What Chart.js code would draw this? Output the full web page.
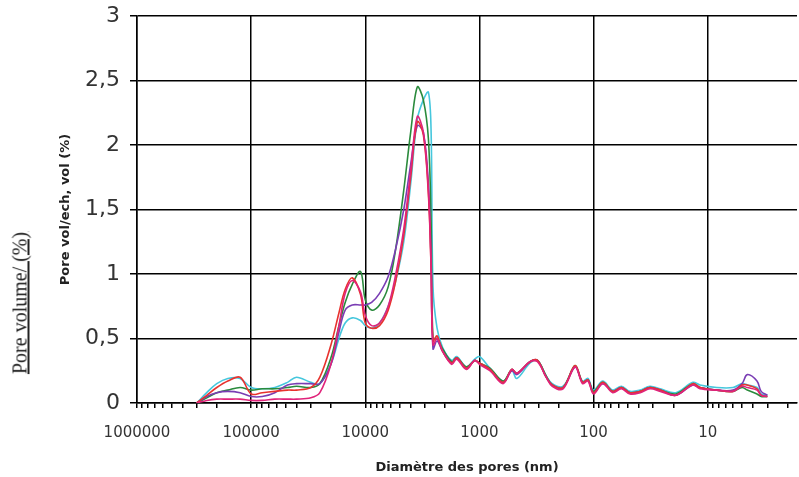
<!DOCTYPE html>
<html>
<head>
<meta charset="utf-8">
<script src="https://cdn.jsdelivr.net/npm/chart.js"></script>
<style>
  body { margin: 0; background: #fff; }
  #wrap { position: relative; width: 799px; height: 477px; }
  #outerLabel {
    position: absolute; left: 20px; top: 303px;
    transform: translate(-50%, -50%) rotate(-90deg);
    font-family: "Liberation Serif", serif; font-size: 20px; color: #222;
    text-decoration: underline; white-space: nowrap;
  }
</style>
</head>
<body>
<div id="wrap">
  <canvas id="poreChart"></canvas>
  <div id="outerLabel">Pore volume/ (%)</div>
</div>
<script>
// diamètres des pores (nm)
const diameters = [300000, 245000, 200000, 160000, 125000, 100000, 80000, 62000, 48000, 40000,
  30000, 25000, 20000, 17000, 15000, 13000, 11000, 10000, 8800, 7500,
  6300, 5400, 4600, 4000, 3500, 3100, 2800, 2650, 2550, 2350,
  2100, 1750, 1580, 1300, 1100, 1000, 810, 620, 520, 470,
  360, 310, 260, 230, 185, 145, 125, 112, 100, 83,
  68, 57, 48, 39, 32, 26, 19, 13.5, 11.7, 8.3,
  6, 5, 4.5, 3.7, 3.4, 3];

const magentaVals = [0, 0.02, 0.03, 0.03, 0.03, 0.02, 0.02, 0.03, 0.03, 0.03,
  0.04, 0.08, 0.30, 0.60, 0.85, 0.95, 0.86, 0.68, 0.60, 0.62,
  0.75, 1.00, 1.35, 1.80, 2.22, 2.10, 1.65, 1.05, 0.45, 0.50,
  0.40, 0.30, 0.34, 0.26, 0.33, 0.30, 0.25, 0.15, 0.26, 0.23,
  0.32, 0.32, 0.20, 0.13, 0.11, 0.28, 0.15, 0.17, 0.07, 0.15,
  0.08, 0.11, 0.07, 0.08, 0.11, 0.09, 0.06, 0.14, 0.11, 0.10,
  0.09, 0.13, 0.12, 0.10, 0.06, 0.05];

const redVals = [0, 0.06, 0.12, 0.17, 0.20, 0.07, 0.08, 0.09, 0.10, 0.10,
  0.12, 0.20, 0.45, 0.70, 0.88, 0.97, 0.84, 0.62, 0.58, 0.60,
  0.72, 0.95, 1.30, 1.75, 2.18, 2.08, 1.62, 1.05, 0.48, 0.52,
  0.40, 0.31, 0.35, 0.27, 0.33, 0.31, 0.26, 0.16, 0.26, 0.23,
  0.32, 0.33, 0.20, 0.14, 0.12, 0.29, 0.16, 0.18, 0.08, 0.16,
  0.09, 0.12, 0.08, 0.09, 0.12, 0.10, 0.06, 0.15, 0.12, 0.10,
  0.09, 0.14, 0.14, 0.11, 0.06, 0.05];

const purpleVals = [0, 0.05, 0.08, 0.09, 0.08, 0.05, 0.05, 0.08, 0.14, 0.15,
  0.15, 0.15, 0.30, 0.55, 0.72, 0.76, 0.76, 0.76, 0.78, 0.85,
  0.98, 1.20, 1.50, 1.85, 2.15, 2.10, 1.70, 1.10, 0.42, 0.48,
  0.40, 0.31, 0.35, 0.27, 0.33, 0.31, 0.26, 0.16, 0.25, 0.22,
  0.32, 0.33, 0.20, 0.14, 0.12, 0.28, 0.16, 0.18, 0.08, 0.15,
  0.09, 0.12, 0.08, 0.09, 0.12, 0.10, 0.06, 0.14, 0.12, 0.10,
  0.10, 0.15, 0.22, 0.17, 0.09, 0.06];

const greenVals = [0, 0.04, 0.08, 0.10, 0.12, 0.10, 0.11, 0.11, 0.12, 0.13,
  0.12, 0.15, 0.35, 0.60, 0.78, 0.92, 1.02, 0.80, 0.72, 0.76,
  0.90, 1.20, 1.65, 2.10, 2.45, 2.35, 2.05, 1.40, 0.50, 0.50,
  0.42, 0.32, 0.35, 0.28, 0.33, 0.31, 0.27, 0.17, 0.26, 0.23,
  0.32, 0.33, 0.21, 0.14, 0.12, 0.29, 0.16, 0.18, 0.09, 0.16,
  0.09, 0.12, 0.08, 0.09, 0.12, 0.10, 0.07, 0.15, 0.12, 0.10,
  0.09, 0.12, 0.10, 0.07, 0.05, 0.05];

const cyanVals = [0, 0.08, 0.15, 0.19, 0.19, 0.12, 0.11, 0.12, 0.16, 0.20,
  0.16, 0.15, 0.30, 0.50, 0.62, 0.66, 0.64, 0.60, 0.58, 0.62,
  0.75, 0.95, 1.25, 1.70, 2.20, 2.35, 2.41, 2.10, 0.90, 0.58,
  0.43, 0.33, 0.36, 0.28, 0.34, 0.36, 0.27, 0.17, 0.25, 0.19,
  0.31, 0.33, 0.21, 0.15, 0.13, 0.28, 0.17, 0.19, 0.10, 0.17,
  0.10, 0.13, 0.09, 0.10, 0.13, 0.11, 0.08, 0.16, 0.14, 0.12,
  0.12, 0.15, 0.14, 0.12, 0.07, 0.06];

const yTicks = [0, 0.5, 1, 1.5, 2, 2.5, 3];
const xTickLabels = [1000000, 100000, 10000, 1000, 100, 10];

function pts(vals) {
  return diameters.map((d, i) => ({ x: d, y: vals[i] }));
}

function line(vals, color) {
  return {
    data: pts(vals),
    borderColor: color,
    borderWidth: 1.6,
    pointRadius: 0,
    tension: 0.35,
    fill: false
  };
}

const config = {
  type: "line",
  data: {
    datasets: [
      line(magentaVals, "#e0237a"),
      line(redVals, "#e8322e"),
      line(purpleVals, "#7a3db4"),
      line(greenVals, "#2a8a3c"),
      line(cyanVals, "#46c7dd")
    ]
  },
  options: {
    responsive: true,
    maintainAspectRatio: false,
    animation: false,
    layout: { padding: { left: 40, right: 2, top: 16, bottom: 0 } },
    plugins: { legend: { display: false }, tooltip: { enabled: false } },
    scales: {
      x: {
        type: "logarithmic",
        reverse: true,
        min: 1.65,
        max: 1000000,
        afterBuildTicks: (scale) => {
          const t = [];
          for (let e = 0; e <= 6; e++) {
            for (let m = 1; m <= 9; m++) {
              const v = m * Math.pow(10, e);
              if (v >= 2 && v <= 1000000) t.push({ value: v });
            }
          }
          scale.ticks = t;
        },
        afterFit: (scale) => { scale.height = 74; },
        border: { color: "#000", width: 1.5 },
        grid: {
          color: (ctx) => ctx.tick && xTickLabels.includes(Math.round(ctx.tick.value)) ? "#000" : "rgba(0,0,0,0)",
          tickColor: "#000",
          lineWidth: 1.5,
          tickLength: 5
        },
        ticks: {
          autoSkip: false,
          maxRotation: 0,
          padding: 16,
          color: "#333",
          font: { family: "DejaVu Sans", size: 15 },
          callback: (v) => xTickLabels.includes(Math.round(v)) ? String(Math.round(v)) : ""
        },
        title: {
          display: true,
          text: "Diamètre des pores (nm)",
          color: "#222",
          font: { family: "DejaVu Sans", size: 13, weight: "bold" },
          padding: { top: 4, bottom: 2 }
        }
      },
      y: {
        min: 0,
        max: 3,
        afterBuildTicks: (scale) => { scale.ticks = yTicks.map(v => ({ value: v })); },
        afterFit: (scale) => { scale.width = 97; scale.paddingTop = 0; scale.paddingBottom = 0; },
        border: { color: "#000", width: 1.5 },
        grid: { color: "#000", lineWidth: 1.5, tickLength: 7 },
        ticks: {
          padding: 10,
          color: "#333",
          font: { family: "DejaVu Sans", size: 22, lineHeight: 1 },
          callback: (v) => String(v).replace(".", ",")
        },
        title: {
          display: true,
          text: "Pore vol/ech, vol (%)",
          color: "#222",
          font: { family: "DejaVu Sans", size: 13, weight: "bold" },
          padding: { top: 18, bottom: 0 }
        }
      }
    }
  }
};

new Chart(document.getElementById("poreChart"), config);
</script>
</body>
</html>
